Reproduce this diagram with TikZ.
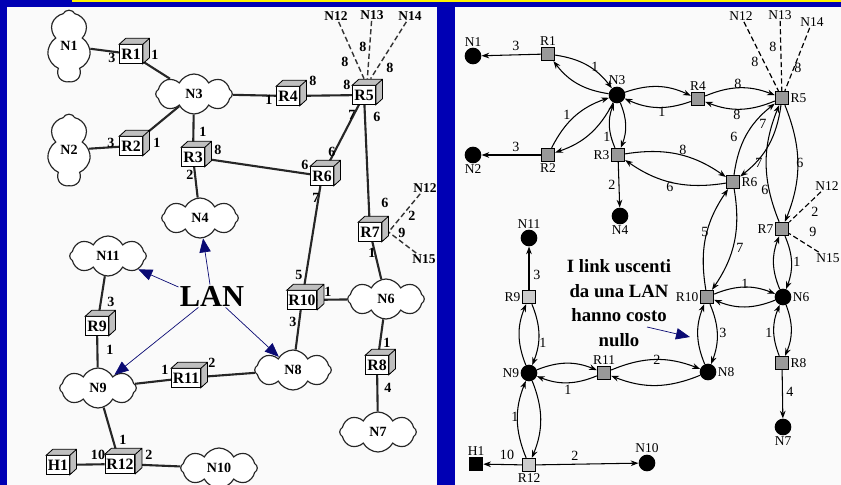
\documentclass[tikz,border=0pt]{standalone}
\usepackage{fontspec}
\setmainfont{Liberation Serif}
\usetikzlibrary{positioning,arrows.meta,shapes.symbols}
\definecolor{slideblue}{RGB}{0,0,180}
\definecolor{lannavy}{RGB}{10,10,115}
\definecolor{paper}{RGB}{250,250,250}
\pgfdeclarelayer{panel}
\pgfdeclarelayer{wires}
\pgfsetlayers{panel,wires,main}
% router drawn as a little cube
\newcommand{\routerbox}[3]{%
  \node[cube] (#1) at (#2) {#3};
  \draw[cubeside] (#1.north west) -- ++(2mm,1.8mm) -- ([shift={(2mm,1.8mm)}]#1.north east)
    -- ([shift={(2mm,1.8mm)}]#1.south east) -- (#1.south east) -- (#1.north east) -- cycle
    (#1.north east) -- ++(2mm,1.8mm);}
% pair of opposite arcs
\newcommand{\twoway}[3][22]{%
  \draw[lnk] (#2) to[bend left=#1] (#3);
  \draw[lnk] (#3) to[bend left=#1] (#2);}

\begin{document}
\begin{tikzpicture}[x=0.03cm, y=-0.03cm,
  lan/.style={cloud, cloud puffs=8, cloud puff arc=125, cloud ignores aspect,
    draw=black!85, line width=1pt, fill=white, inner sep=0pt,
    minimum width=2.3cm, minimum height=1.2cm,
    font=\fontsize{12}{13}\selectfont\bfseries},
  tall/.style={cloud puffs=7, minimum width=1.3cm, minimum height=2.15cm},
  cube/.style={draw=black, line width=0.9pt, fill=white, inner sep=1pt,
    minimum width=0.68cm, minimum height=0.55cm,
    font=\fontsize{13.5}{14}\selectfont\bfseries},
  cubeside/.style={draw=black, line width=0.7pt, fill=black!25},
  wire/.style={line width=1.8pt, black!85},
  dashwire/.style={line width=1.2pt, black!80, dash pattern=on 4.5pt off 2.5pt},
  lcost/.style={font=\fontsize{12}{13}\selectfont\bfseries, inner sep=0pt},
  lname/.style={font=\fontsize{11.5}{12}\selectfont\bfseries, inner sep=1pt},
  lanarr/.style={-{Triangle[length=4.2mm,width=3.4mm]}, lannavy, line width=0.6pt},
  net/.style={circle, fill=black, inner sep=0pt, minimum size=0.5cm},
  rtr/.style={draw=black, line width=0.9pt, fill=black!40, inner sep=0pt, minimum size=0.4cm},
  hostsq/.style={fill=black, inner sep=0pt, minimum size=0.42cm},
  tag/.style={font=\fontsize{11.5}{12}\selectfont, inner sep=1pt},
  rcost/.style={font=\fontsize{12}{13}\selectfont, inner sep=0pt},
  lnk/.style={-{Stealth[length=2.3mm,width=1.7mm]}, line width=0.9pt},
  rdash/.style={line width=1pt, dash pattern=on 4.5pt off 2.5pt},
]
\useasboundingbox (0,0) rectangle (841,485);
\begin{pgfonlayer}{panel}
  \fill[slideblue] (0,0) rectangle (841,485);
  \fill[yellow] (72,0) rectangle (841,2.5);
  \fill[paper] (7,7) rectangle (437,485);
  \fill[paper] (455,7) rectangle (841,485);
\end{pgfonlayer}

% ---- left: the physical network
\node[lan, tall] (N1) at (69,46) {N1};
\node[lan, tall] (N2) at (69,150) {N2};
\node[lan] (N3) at (194,94) {N3};
\node[lan] (N4) at (200,218) {N4};
\node[lan] (N6) at (386,299) {N6};
\node[lan] (N7) at (378,432) {N7};
\node[lan] (N8) at (293,370) {N8};
\node[lan] (N9) at (98,388) {N9};
\node[lan] (N10) at (219,468) {N10};
\node[lan] (N11) at (108,256) {N11};
\routerbox{R1}{131,54}{R1}
\routerbox{R2}{131,146}{R2}
\routerbox{R3}{193,157}{R3}
\routerbox{R4}{288,96}{R4}
\routerbox{R5}{364,95}{R5}
\routerbox{R6}{322,176}{R6}
\routerbox{R7}{370,232}{R7}
\routerbox{R8}{377,365}{R8}
\routerbox{R9}{97,326}{R9}
\routerbox{R10}{302,300}{R10}
\routerbox{R11}{186,378}{R11}
\routerbox{R12}{120,464}{R12}
\routerbox{H1}{58,465}{H1}
\node[lname] (tN12) at (336,16) {N12};
\node[lname] (tN13) at (372,15) {N13};
\node[lname] (tN14) at (410,16) {N14};
\node[lname] (tN12b) at (425,188) {N12};
\node[lname] (tN15) at (424,259) {N15};

\begin{pgfonlayer}{wires}
  \draw[wire] (N1) -- (R1) -- (N3) -- (R2) -- (N2);
  \draw[wire] (N3) -- (R3) -- (N4);
  \draw[wire] (N3) -- (R4) -- (R5) -- (R6) -- (R3);
  \draw[wire] (R5) -- (R7) -- (N6) -- (R8) -- (N7);
  \draw[wire] (R6) -- (R10) -- (N6);
  \draw[wire] (R10) -- (N8) -- (R11) -- (N9) -- (R9) -- (N11);
  \draw[wire] (N9) -- (R12) -- (H1);
  \draw[wire] (R12) -- (N10);
  \draw[dashwire] (tN12) -- ([yshift=2mm]R5.north);
  \draw[dashwire] (tN13) -- ([shift={(1mm,2mm)}]R5.north);
  \draw[dashwire] (tN14) -- ([shift={(2mm,2mm)}]R5.north);
  \draw[dashwire] (tN12b) -- ([xshift=2mm]R7.east);
  \draw[dashwire] (tN15) -- ([xshift=2mm]R7.east);
\end{pgfonlayer}

\foreach \x/\y/\c [count=\i] in {112/58/3, 155/55/1, 111/143/3, 157/143/1,
    203/132/1, 218/150/8, 190/175/2, 269/100/1, 313/81/8, 347/85/8, 352/115/7,
    377/117/6, 345/62/8, 363/47/8, 390/68/8, 332/152/6, 305/165/6, 316/198/7,
    385/203/6, 372/253/1, 412/216/2, 402/233/9, 299/275/5, 328/292/1, 293/322/3,
    387/343/1, 388/388/4, 111/302/3, 110/350/1, 165/370/1, 212/363/2, 123/440/1,
    98/455/10, 149/455/2}
  \node[lcost] (lc\i) at (\x,\y) {\c};

\node[font=\fontsize{26}{28}\selectfont\bfseries, inner sep=1pt] (lanlbl) at (212,296) {LAN};
\draw[lanarr] (lanlbl.165) -- (N11);
\draw[lanarr] (lanlbl.100) -- (N4);
\draw[lanarr] (lanlbl.220) -- (N9);
\draw[lanarr] (lanlbl.-40) -- (N8);

% ---- right: the directed graph
\node[net, label={[tag]above:N1}] (n1) at (473,56) {};
\node[rtr, label={[tag]above:R1}] (r1) at (548,54) {};
\node[net, label={[tag]above:N3}] (n3) at (617,95) {};
\node[rtr, label={[tag]below:R2}] (r2) at (548,155) {};
\node[net, label={[tag]below:N2}] (n2) at (473,155) {};
\node[rtr, label={[tag]left:R3}] (r3) at (618,155) {};
\node[net, label={[tag]below:N4}] (n4) at (620,216) {};
\node[rtr, label={[tag]above:R4}] (r4) at (698,99) {};
\node[rtr, label={[tag]right:R5}] (r5) at (782,98) {};
\node[rtr, label={[tag]right:R6}] (r6) at (733,182) {};
\node[rtr, label={[tag]left:R7}] (r7) at (782,229) {};
\node[net, label={[tag]right:N6}] (n6) at (783,297) {};
\node[rtr, label={[tag]left:R10}] (r10) at (707,297) {};
\node[net, label={[tag]right:N8}] (n8) at (708,372) {};
\node[rtr, label={[tag]right:R8}] (r8) at (782,363) {};
\node[net, label={[tag]below:N7}] (n7) at (783,427) {};
\node[net, label={[tag]above:N11}] (n11) at (529,238) {};
\node[rtr, fill=black!20, label={[tag]left:R9}] (r9) at (529,297) {};
\node[net, label={[tag]left:N9}] (n9) at (529,373) {};
\node[rtr, label={[tag]above:R11}] (r11) at (604,373) {};
\node[rtr, fill=black!20, label={[tag]below:R12}] (r12) at (529,465) {};
\node[hostsq, label={[tag]above:H1}] (h1) at (476,464) {};
\node[net, label={[tag]above:N10}] (n10) at (647,463) {};
\node[tag] (tn12) at (741,16) {N12};
\node[tag] (tn13) at (780,15) {N13};
\node[tag] (tn14) at (812,22) {N14};
\node[tag] (tn12b) at (827,186) {N12};
\node[tag] (tn15) at (828,258) {N15};

\draw[lnk] (r1) -- (n1);
\draw[lnk] (r2) -- (n2);
\draw[lnk] (r3) -- (n4);
\draw[lnk] (r9) -- (n11);
\draw[lnk] (r8) -- (n7);
\draw[lnk] (r12) -- (h1);
\draw[lnk] (r12) -- (n10);
\twoway{r1}{n3}
\twoway{r2}{n3}
\twoway{n3}{r3}
\twoway{n3}{r4}
\twoway{r4}{r5}
\twoway{r3}{r6}
\twoway{r5}{r6}
\twoway{r5}{r7}
\twoway{r6}{r10}
\twoway{r7}{n6}
\twoway{r10}{n6}
\twoway{r10}{n8}
\twoway{n6}{r8}
\twoway{r9}{n9}
\twoway{n9}{r11}
\twoway{r11}{n8}
\twoway{n9}{r12}
\draw[rdash] (tn12) -- (r5);
\draw[rdash] (tn13) -- (r5);
\draw[rdash] (tn14) -- (r5);
\draw[rdash] (tn12b) -- (r7);
\draw[rdash] (tn15) -- (r7);

\foreach \x/\y/\c [count=\i] in {516/46/3, 595/67/1, 567/115/1, 516/147/3,
    607/137/1, 662/112/1, 738/84/8, 737/115/8, 755/62/8, 773/47/8, 798/68/8,
    683/150/8, 670/187/6, 763/124/7, 734/137/6, 759/163/7, 800/163/6, 765/190/6,
    612/185/2, 815/212/2, 813/232/9, 797/262/1, 705/232/5, 740/248/7, 745/284/1,
    723/333/3, 769/333/1, 790/392/4, 657/360/2, 537/275/3, 543/343/1, 568/390/1,
    515/417/1, 507/455/10, 575/456/2}
  \node[rcost] (rc\i) at (\x,\y) {\c};

\node[font=\fontsize{16}{21}\selectfont\bfseries, align=center] (note) at (619,303)
  {I link uscenti\\da una LAN\\hanno costo\\nullo};
\coordinate (notetail) at (647,327);
\coordinate (linkpt) at (690,337);
\draw[lanarr] (notetail) -- (linkpt);
\end{tikzpicture}
\end{document}
